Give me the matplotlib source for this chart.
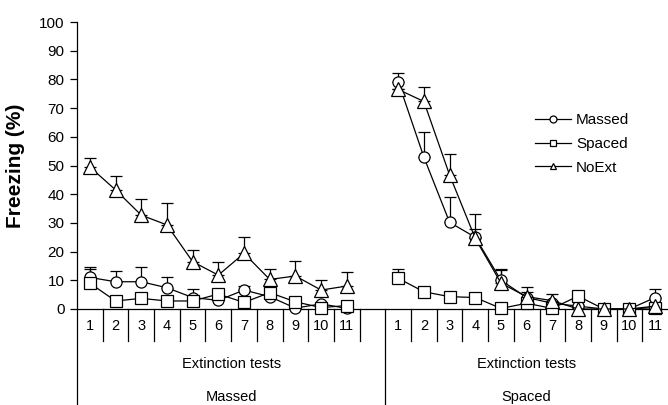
import numpy as np
import matplotlib
matplotlib.use("Agg")
import matplotlib.pyplot as plt
from matplotlib.lines import Line2D

plt.rcParams['font.family'] = ['Liberation Sans', 'DejaVu Sans']

# data (two groups of 11 extinction tests)
tests = [str(i) for i in range(1, 12)]
group_names = ['Massed', 'Spaced']

# Massed training group
m_massed = [11, 9.5, 9.5, 7.4, 4, 3, 6.6, 4.3, 0.3, 1.8, 0.2]
m_massed_err = [3.5, 3.7, 5, 3.9, 3, 0, 1.5, 0, 0, 0, 0]
m_spaced = [9, 2.8, 3.7, 2.8, 2.8, 5.2, 2.3, 5.7, 2.5, 0.5, 1.2]
m_spaced_err = [5, 0, 0, 0, 0, 0, 0, 1, 0, 0, 0]
m_noext = [49.5, 41.5, 32.7, 29.3, 16.5, 11.8, 19.4, 10.3, 11.5, 6.6, 8]
m_noext_err = [3.2, 4.9, 5.5, 7.7, 4.1, 4.5, 5.8, 3.6, 5.3, 3.5, 5]

# Spaced training group
s_massed = [79.2, 52.9, 30.2, 25, 10, 4, 2, 1, 0, 0, 4]
s_massed_err = [3.1, 8.9, 8.9, 3, 3.6, 2, 0.5, 0.5, 0, 0, 2.9]
s_spaced = [10.7, 6, 4.3, 4, 0.2, 2, 0.2, 4.5, 0, 0, 0.5]
s_spaced_err = [3.2, 0.5, 0, 0.5, 0, 0, 0, 0.5, 0, 0, 0]
s_noext = [76.5, 72.3, 46.7, 24.6, 9, 4.3, 2.9, 0, 0, 0, 1]
s_noext_err = [0, 4.9, 7.3, 8.5, 4.8, 3.5, 2.2, 0.5, 0, 0, 0]

# 23 slots: 11 massed, 1 empty, 11 spaced
def join(a, b):
    return np.array(a + [np.nan] + b, dtype=float)

x = np.arange(23) + 0.5
series = [
    ('Massed', 'o', 8, join(m_massed, s_massed), join(m_massed_err, s_massed_err)),
    ('Spaced', 's', 8, join(m_spaced, s_spaced), join(m_spaced_err, s_spaced_err)),
    ('NoExt', '^', 10, join(m_noext, s_noext), join(m_noext_err, s_noext_err)),
]

fig = plt.figure(figsize=(6.68, 4.05), dpi=100)
ax = fig.add_axes([77 / 668, 1 - 309 / 405, 591 / 668, 287 / 405])

for name, mk, ms, y, e in series:
    lower = np.zeros_like(e)
    ax.errorbar(x, y, yerr=[lower, e], fmt='none', ecolor='black',
                elinewidth=0.9, capsize=4, capthick=0.9, zorder=2)
    ax.plot(x, y, color='black', lw=0.9, marker=mk, ms=ms, mfc='white',
            mec='black', mew=0.9, zorder=3, clip_on=False)

ax.set_xlim(0, 23)
ax.set_ylim(0, 100)
ax.set_yticks(range(0, 101, 10))
ax.tick_params(axis='y', direction='out', length=5, width=0.9, labelsize=11, pad=4)
ax.set_xticks([])
for s in ['top', 'right']:
    ax.spines[s].set_visible(False)
ax.spines['left'].set_linewidth(0.9)
ax.spines['bottom'].set_linewidth(0.9)
ax.set_ylabel('Freezing (%)', fontsize=15, fontweight='bold', labelpad=10)

# multi-level category axis like Excel
tr = ax.get_xaxis_transform()
for k in list(range(1, 12)) + list(range(13, 23)):
    ax.plot([k, k], [0, -0.112], transform=tr, color='black', lw=0.9, clip_on=False)
for k in [0, 12]:
    ax.plot([k, k], [0, -0.34], transform=tr, color='black', lw=0.9, clip_on=False)

for g, off in enumerate([0, 12]):
    for i, t in enumerate(tests):
        ax.text(off + i + 0.5, -0.058, t, transform=tr, ha='center', va='center', fontsize=10.5)
    mid = 6 if g == 0 else 17.5
    ax.text(mid, -0.19, 'Extinction tests', transform=tr, ha='center', va='center', fontsize=10.5)
    ax.text(mid, -0.305, group_names[g], transform=tr, ha='center', va='center', fontsize=10.5)

handles = [Line2D([], [], color='black', lw=0.9, marker=mk, ms=5, mfc='white',
                  mec='black', mew=0.9) for _, mk, _, _, _ in series]
fig.legend(handles, [s[0] for s in series], loc='upper left',
           bbox_to_anchor=(0.789, 0.74), frameon=False, fontsize=11,
           handlelength=2.4, handletextpad=0.3, labelspacing=0.65, borderpad=0)

fig.savefig('out.png', dpi=100)
